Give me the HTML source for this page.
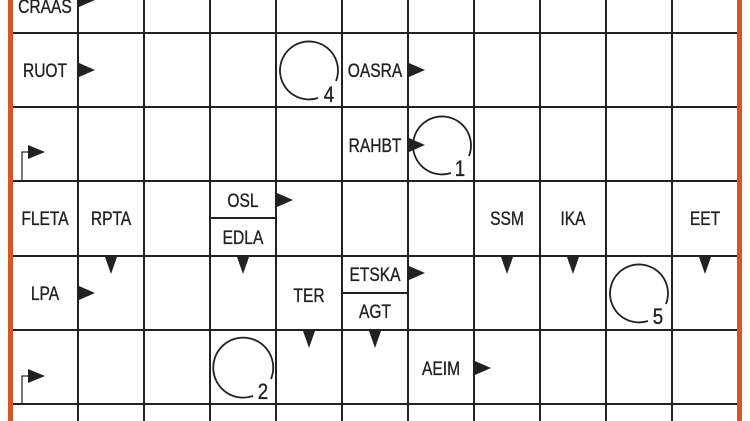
<!DOCTYPE html>
<html><head><meta charset="utf-8"><style>
html,body{margin:0;padding:0;background:#fff;width:750px;height:421px;overflow:hidden}
svg text{font-family:"Liberation Sans",sans-serif;font-size:19px;fill:#222;stroke:#222;stroke-width:0.35;text-anchor:middle}
</style></head><body>
<svg width="750" height="421" viewBox="0 0 750 421" xmlns="http://www.w3.org/2000/svg">
<rect width="750" height="421" fill="#fff"/>
<g stroke="#222" stroke-width="2" fill="none">
<line x1="78" y1="0" x2="78" y2="421"/><line x1="144" y1="0" x2="144" y2="421"/>
<line x1="210" y1="0" x2="210" y2="421"/><line x1="276" y1="0" x2="276" y2="421"/>
<line x1="342" y1="0" x2="342" y2="421"/><line x1="408" y1="0" x2="408" y2="421"/>
<line x1="474" y1="0" x2="474" y2="421"/><line x1="540" y1="0" x2="540" y2="421"/>
<line x1="606" y1="0" x2="606" y2="421"/><line x1="672" y1="0" x2="672" y2="421"/>
<line x1="12" y1="33" x2="738" y2="33"/><line x1="12" y1="107" x2="738" y2="107"/>
<line x1="12" y1="181" x2="738" y2="181"/><line x1="12" y1="256" x2="738" y2="256"/>
<line x1="12" y1="330" x2="738" y2="330"/><line x1="12" y1="404" x2="738" y2="404"/>
<line x1="210" y1="218" x2="276" y2="218"/><line x1="342" y1="293" x2="408" y2="293"/>
</g>
<rect x="8" y="0" width="5" height="421" fill="#d9541e"/>
<rect x="737" y="0" width="5" height="421" fill="#d9541e"/>
<g fill="#222">
<polygon points="79,-7 95,0 79,7"/>
<polygon points="79,63 95,70 79,77"/>
<polygon points="409,63 425,70 409,77"/>
<polygon points="409,138 425,145 409,152"/>
<polygon points="277,193 293,200 277,207"/>
<polygon points="79,286 95,293 79,300"/>
<polygon points="409,266 425,273 409,280"/>
<polygon points="475,361 491,368 475,375"/>
<polygon points="105,257 117,257 111,274"/>
<polygon points="237,257 249,257 243,274"/>
<polygon points="501,257 513,257 507,274"/>
<polygon points="567,257 579,257 573,274"/>
<polygon points="699,257 711,257 705,274"/>
<polygon points="303,331 315,331 309,348"/>
<polygon points="369,331 381,331 375,348"/>
<polygon points="28,145 45,152 28,159"/>
<polygon points="28,369 45,376 28,383"/>
</g>
<g stroke="#222" stroke-width="1.2" fill="none">
<polyline points="22,181 22,152 29,152"/>
<polyline points="22,404 22,376 29,376"/>
</g>
<g stroke="#222" stroke-width="1.8" fill="none">
<path d="M336,81 A29,29 0 1 0 318,98"/>
<path d="M469,156 A29,29 0 1 0 451,173"/>
<path d="M271,379 A30,30 0 1 0 253,396"/>
<path d="M666,304 A29,29 0 1 0 648,321"/>
</g>
<g transform="translate(45,13) scale(0.82,1)"><text>CRAAS</text></g>
<g transform="translate(45,77) scale(0.82,1)"><text>RUOT</text></g>
<g transform="translate(375,77) scale(0.82,1)"><text>OASRA</text></g>
<g transform="translate(375,152) scale(0.82,1)"><text>RAHBT</text></g>
<g transform="translate(45,225) scale(0.82,1)"><text>FLETA</text></g>
<g transform="translate(111,225) scale(0.82,1)"><text>RPTA</text></g>
<g transform="translate(243,207) scale(0.82,1)"><text>OSL</text></g>
<g transform="translate(243,244) scale(0.82,1)"><text>EDLA</text></g>
<g transform="translate(507,225) scale(0.82,1)"><text>SSM</text></g>
<g transform="translate(573,225) scale(0.82,1)"><text>IKA</text></g>
<g transform="translate(705,225) scale(0.82,1)"><text>EET</text></g>
<g transform="translate(45,300) scale(0.82,1)"><text>LPA</text></g>
<g transform="translate(309,302) scale(0.82,1)"><text>TER</text></g>
<g transform="translate(375,281) scale(0.82,1)"><text>ETSKA</text></g>
<g transform="translate(375,318) scale(0.82,1)"><text>AGT</text></g>
<g transform="translate(441,375) scale(0.82,1)"><text>AEIM</text></g>
<g transform="translate(329,102) scale(0.85,1)"><text style="font-size:22px">4</text></g>
<g transform="translate(460,176) scale(0.85,1)"><text style="font-size:22px">1</text></g>
<g transform="translate(263,399) scale(0.85,1)"><text style="font-size:22px">2</text></g>
<g transform="translate(658,324) scale(0.85,1)"><text style="font-size:22px">5</text></g>
</svg>
</body></html>
